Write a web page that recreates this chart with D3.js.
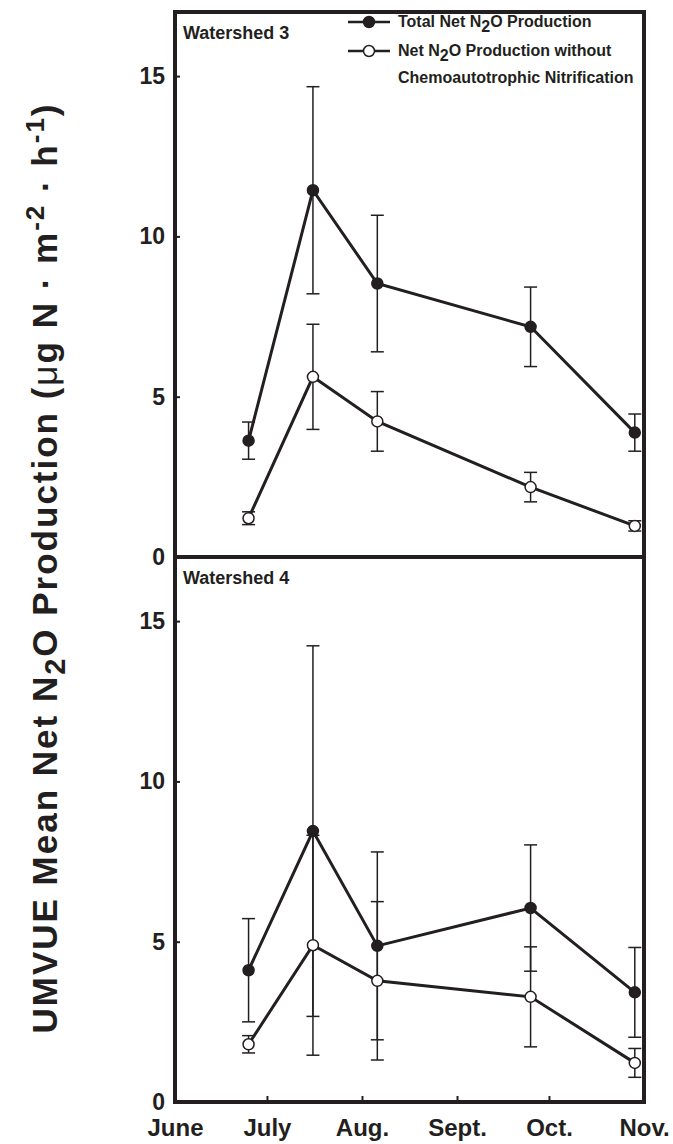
<!DOCTYPE html>
<html>
<head>
<meta charset="utf-8">
<script src="https://cdn.jsdelivr.net/npm/d3@7"></script>
<style>
  body { margin: 0; background: #fff; }
  text { font-family: "Liberation Sans", Arial, sans-serif; font-weight: bold; fill: #231f20; }
</style>
</head>
<body>
<div id="canvas"></div>
<script>
const canvas = d3.select("#canvas");

// data
const monthLabels = ["June", "July", "Aug.", "Sept.", "Oct.", "Nov."];
const monthStarts = ["1996-06-01", "1996-07-01", "1996-08-01", "1996-09-01", "1996-10-01", "1996-11-01"];
const sampleDates = ["1996-06-25", "1996-07-16", "1996-08-06", "1996-09-25", "1996-10-29"];
const yTicks = [0, 5, 10, 15];

const ws3Total = [3.63, 11.44, 8.53, 7.18, 3.88];
const ws3TotalErr = [0.58, 3.23, 2.13, 1.24, 0.58];
const ws3NoNit = [1.21, 5.62, 4.23, 2.18, 0.97];
const ws3NoNitErr = [0.20, 1.64, 0.93, 0.46, 0.16];

const ws4Total = [4.11, 8.45, 4.87, 6.05, 3.42];
const ws4TotalErr = [1.61, 5.78, 2.93, 1.97, 1.40];
const ws4NoNit = [1.80, 4.89, 3.78, 3.28, 1.22];
const ws4NoNitErr = [0.27, 3.43, 2.47, 1.56, 0.45];

const width = 673;
const height = 1144;
const left = 175, right = 644;
const ink = "#231f20";

const parse = d3.utcParse("%Y-%m-%d");

const svg = canvas.append("svg")
    .attr("width", width)
    .attr("height", height);

const x = d3.scaleUtc()
    .domain([parse(monthStarts[0]), parse(monthStarts[monthStarts.length - 1])])
    .range([left, right]);

const panels = [
    { name: "Watershed 3", top: 12, bottom: 557, total: ws3Total, totalErr: ws3TotalErr, nonit: ws3NoNit, nonitErr: ws3NoNitErr },
    { name: "Watershed 4", top: 557, bottom: 1102, total: ws4Total, totalErr: ws4TotalErr, nonit: ws4NoNit, nonitErr: ws4NoNitErr }
];

panels.forEach(p => {
    const y = d3.scaleLinear().domain([0, 17]).range([p.bottom, p.top]);
    const g = svg.append("g");

    g.append("g")
        .attr("transform", `translate(${left},0)`)
        .call(d3.axisLeft(y).tickValues(yTicks).tickSizeInner(-5).tickSizeOuter(0).tickPadding(10))
        .call(a => a.select(".domain").remove())
        .call(a => a.selectAll("line").attr("stroke", ink).attr("stroke-width", 2))
        .call(a => a.selectAll("text").attr("font-size", 23).style("font-family", "Liberation Sans, Arial, sans-serif").style("font-weight", "bold").attr("fill", ink));

    g.append("text")
        .attr("x", left + 8)
        .attr("y", p.top + 27)
        .attr("font-size", 18)
        .text(p.name);

    const series = [
        { vals: p.total, errs: p.totalErr, fill: ink },
        { vals: p.nonit, errs: p.nonitErr, fill: "#fff" }
    ];

    // error bars
    series.forEach(s => {
        const eb = g.append("g").attr("stroke", ink).attr("stroke-width", 1.5);
        sampleDates.forEach((d, i) => {
            const cx = x(parse(d));
            const y1 = y(s.vals[i] + s.errs[i]), y2 = y(s.vals[i] - s.errs[i]);
            eb.append("line").attr("x1", cx).attr("x2", cx).attr("y1", y1).attr("y2", y2);
            eb.append("line").attr("x1", cx - 6.5).attr("x2", cx + 6.5).attr("y1", y1).attr("y2", y1);
            eb.append("line").attr("x1", cx - 6.5).attr("x2", cx + 6.5).attr("y1", y2).attr("y2", y2);
        });
    });

    const line = d3.line()
        .x((d, i) => x(parse(sampleDates[i])))
        .y(d => y(d));

    series.forEach(s => {
        g.append("path")
            .attr("d", line(s.vals))
            .attr("fill", "none")
            .attr("stroke", ink)
            .attr("stroke-width", 3);
    });

    series.forEach(s => {
        g.selectAll(null).data(s.vals).enter().append("circle")
            .attr("cx", (d, i) => x(parse(sampleDates[i])))
            .attr("cy", d => y(d))
            .attr("r", 5.5)
            .attr("fill", s.fill)
            .attr("stroke", ink)
            .attr("stroke-width", 1.5);
    });

    g.append("rect")
        .attr("x", left)
        .attr("y", p.top)
        .attr("width", right - left)
        .attr("height", p.bottom - p.top)
        .attr("fill", "none")
        .attr("stroke", ink)
        .attr("stroke-width", 4);
});

// x axis at the bottom
svg.append("g")
    .attr("transform", `translate(0,${panels[1].bottom})`)
    .call(d3.axisBottom(x).tickValues(monthStarts.map(parse)).tickFormat((d, i) => monthLabels[i]).tickSizeInner(-6).tickSizeOuter(0).tickPadding(17))
    .call(a => a.select(".domain").remove())
    .call(a => a.selectAll("line").attr("stroke", ink).attr("stroke-width", 2))
    .call(a => a.selectAll("text").attr("font-size", 24).style("font-family", "Liberation Sans, Arial, sans-serif").style("font-weight", "bold").attr("fill", ink));

// legend
const legend = svg.append("g");
const legendRows = [
    { y: 22, fill: ink, lines: [["Total Net N", "2", "O Production"]] },
    { y: 51, fill: "#fff", lines: [["Net N", "2", "O Production without"], ["Chemoautotrophic Nitrification"]] }
];
legendRows.forEach(r => {
    legend.append("line")
        .attr("x1", 348).attr("x2", 390)
        .attr("y1", r.y).attr("y2", r.y)
        .attr("stroke", ink).attr("stroke-width", 2.5);
    legend.append("circle")
        .attr("cx", 369).attr("cy", r.y).attr("r", 5.5)
        .attr("fill", r.fill).attr("stroke", ink).attr("stroke-width", 1.5);
    r.lines.forEach((parts, j) => {
        const t = legend.append("text")
            .attr("x", 398)
            .attr("y", r.y + 5 + j * 27)
            .attr("font-size", 16);
        t.append("tspan").text(parts[0]);
        if (parts.length > 1) {
            t.append("tspan").attr("dy", 5).text(parts[1]);
            t.append("tspan").attr("dy", -5).text(parts[2]);
        }
    });
});

// y axis title
const title = svg.append("text")
    .attr("transform", "translate(57,568) rotate(-90)")
    .attr("text-anchor", "middle")
    .attr("font-size", 35)
    .attr("letter-spacing", 2);
title.append("tspan").text("UMVUE Mean Net N");
title.append("tspan").attr("dy", 8).attr("font-size", 29).text("2");
title.append("tspan").attr("dy", -8).text("O Production (");
title.append("tspan").style("font-weight", "normal").text("μ");
title.append("tspan").text("g  N · m");
title.append("tspan").attr("dy", -13).attr("font-size", 26).text("-2");
title.append("tspan").attr("dy", 13).text(" · h");
title.append("tspan").attr("dy", -13).attr("font-size", 26).text("-1");
title.append("tspan").attr("dy", 13).text(")");
</script>
</body>
</html>
